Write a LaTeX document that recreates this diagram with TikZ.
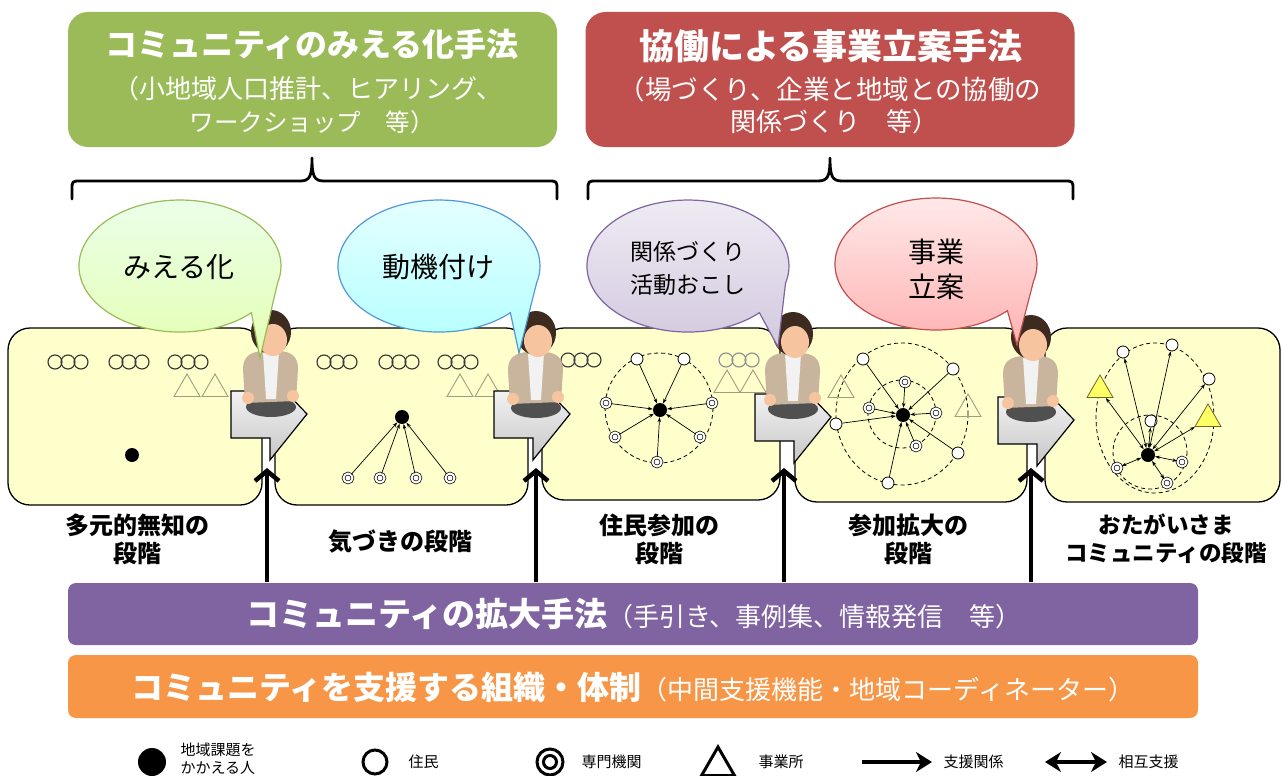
\documentclass[tikz,border=0pt]{standalone}
\usepackage{fontspec}
\setmainfont{Noto Sans CJK JP}
\usetikzlibrary{arrows.meta,shapes.geometric}

\definecolor{hgreen}{HTML}{9BBB59}
\definecolor{hred}{HTML}{C0504D}
\definecolor{hpurple}{HTML}{8064A2}
\definecolor{horange}{HTML}{F79646}
\definecolor{stagefill}{HTML}{FFFFCC}
\definecolor{skin}{HTML}{F7C4A0}
\definecolor{hair}{HTML}{3D2B1F}
\definecolor{jacket}{HTML}{C9B59D}
\definecolor{shirt}{HTML}{F2F2F2}
\definecolor{lapgray}{HTML}{505050}
\definecolor{fadetri}{HTML}{9E9E80}
\definecolor{ytrifill}{HTML}{FFFF66}

% seated figure, head centred at (#1,#2)
\newcommand\personfig[2]{%
  \begin{scope}[shift={(#1,#2)}]
    \fill[lapgray] (0,72) ellipse [x radius=25, y radius=10];
    \fill[jacket] (-26,68) -- (-28,34) .. controls (-28,21) and (-20,17) .. (-9,16)
      -- (9,16) .. controls (20,17) and (27,21) .. (27,34) -- (25,66) -- cycle;
    \fill[shirt] (-8,17) -- (8,17) -- (5,64) -- (-5,64) -- cycle;
    \fill[hair] (0,-3) ellipse [x radius=20, y radius=22];
    \fill[skin] (2,5) ellipse [x radius=14, y radius=16];
    \fill[skin] (-23,63) circle [radius=6];
    \fill[skin] (22,61) circle [radius=6];
  \end{scope}}

% grey step arrow, top-left corner at (#1,#2)
\newcommand\grayarrow[2]{%
  \draw[garrow] (#1,#2) -- ++(54,0) -- ++(22,23) -- ++(-37,46) -- ++(0,-22) -- ++(-39,0) -- cycle;}

% speech bubble: centre (#1,#2), tail tip (#3,#4), style #5
\newcommand\bubble[5]{%
  \draw[bubblebase,#5] ({#1+71.4},{#2+46.7}) arc[start angle=45,end angle=375,x radius=101,y radius=66]
    -- (#3,#4) -- cycle;}

\begin{document}
\begin{tikzpicture}[x=1pt,y=-1pt,
  hbox/.style={rounded corners=20pt, inner sep=0pt, minimum width=489pt, minimum height=135pt},
  htitle/.style={text=white, font=\bfseries\fontsize{32}{32}\selectfont},
  hsub/.style={text=white, font=\fontsize{24}{24}\selectfont},
  brace/.style={line width=2.8pt, line cap=round, line join=round},
  stagebox/.style={draw, line width=1.3pt, fill=stagefill, rounded corners=22pt, inner sep=0pt},
  stagelabel/.style={font=\bfseries\fontsize{24}{28}\selectfont, align=center},
  bubblebase/.style={line width=1.2pt},
  bubtext/.style={font=\fontsize{28}{34}\selectfont, align=center},
  garrow/.style={draw, line width=1.2pt, top color=gray!10, bottom color=gray!45},
  uparrow/.style={line width=4.5pt, -{Straight Barb[length=10pt,width=24pt]}},
  rowc/.style={circle, draw=black!80, line width=1.1pt, minimum size=14pt, inner sep=0pt},
  rowf/.style={rowc, draw=black!45},
  tri/.style={regular polygon, regular polygon sides=3, draw=fadetri, line width=0.9pt, minimum size=30pt, inner sep=0pt},
  ytri/.style={regular polygon, regular polygon sides=3, draw=olive!70!black, fill=ytrifill, line width=0.8pt, minimum size=30pt, inner sep=0pt},
  res/.style={circle, draw, fill=white, line width=0.8pt, minimum size=12pt, inner sep=0pt},
  exp/.style={circle, draw, fill=white, line width=0.7pt, double=white, double distance=2pt, minimum size=9pt, inner sep=0pt},
  hub/.style={circle, fill=black, minimum size=14pt, inner sep=0pt},
  net/.style={line width=0.7pt, -{Stealth[length=5pt,width=3.5pt]}},
  net2/.style={line width=0.7pt, {Stealth[length=5pt,width=3.5pt]}-{Stealth[length=5pt,width=3.5pt]}},
  ring/.style={dashed, line width=0.8pt, dash pattern=on 4pt off 3pt},
  bar/.style={rounded corners=8pt, inner sep=0pt, minimum width=1130pt, minimum height=62pt},
  legtext/.style={anchor=west, font=\fontsize{15}{18}\selectfont, align=left}
]
\useasboundingbox (0,0) rectangle (1283,776);
\fill[white] (0,0) rectangle (1283,776);

% ---------- method headers ----------
\node[hbox, fill=hgreen] (meth1) at (312.5,79.5) {};
\node[htitle] (meth1t) at (312,44) {コミュニティのみえる化手法};
\node[hsub, font=\fontsize{26}{26}\selectfont] (meth1s1) at (308,89) {（小地域人口推計、ヒアリング、};
\node[hsub, font=\fontsize{24.5}{24.5}\selectfont] (meth1s2) at (312,122) {ワークショップ　等）};

\node[hbox, fill=hred] (meth2) at (830,79.5) {};
\node[htitle, font=\bfseries\fontsize{35}{35}\selectfont] (meth2t) at (831,46) {協働による事業立案手法};
\node[hsub, font=\fontsize{26.5}{26.5}\selectfont] (meth2s1) at (830,89) {（場づくり、企業と地域との協働の};
\node[hsub, font=\fontsize{26}{26}\selectfont] (meth2s2) at (834,122) {関係づくり　等）};

% ---------- braces ----------
\draw[brace] (72,199) -- (72,190) .. controls (72,181) .. (81,181) -- (300,181)
  .. controls (310,181) and (312,176) .. (312,158)
  .. controls (312,176) and (314,181) .. (324,181) -- (548,181)
  .. controls (557,181) .. (557,190) -- (557,199);
\draw[brace] (588,199) -- (588,190) .. controls (588,181) .. (597,181) -- (818,181)
  .. controls (828,181) and (830,176) .. (830,158)
  .. controls (830,176) and (832,181) .. (842,181) -- (1064,181)
  .. controls (1073,181) .. (1073,190) -- (1073,199);

% ---------- stage boxes ----------
\node[stagebox, minimum width=232pt, minimum height=174pt] (st4) at (911,415) {};
\node[stagebox, minimum width=235pt, minimum height=174pt] (st5) at (1162.5,415) {};
\node[stagebox, minimum width=238pt, minimum height=172pt] (st3) at (661,414) {};
\node[stagebox, minimum width=253pt, minimum height=177pt] (st2) at (401.5,416.5) {};
\node[stagebox, minimum width=254pt, minimum height=177pt] (st1) at (135,416.5) {};

% stage 1: scattered residents
\foreach \gx in {55,116,175} \foreach \k in {0,1,2}
  \node[rowc] (ra\gx\k) at ({\gx+13*\k},362) {};
\node[tri] (ta1) at (187,389) {};
\node[tri] (ta2) at (215,389) {};
\node[hub] (c1) at (132,455) {};

% stage 2: experts around one person
\foreach \gx in {324,386,445} \foreach \k in {0,1,2}
  \node[rowc] (rb\gx\k) at ({\gx+13*\k},362) {};
\node[tri] (tb1) at (460,389) {};
\node[tri] (tb2) at (488,389) {};
\node[hub] (c2) at (402,417) {};
\foreach \ex [count=\i] in {348,380,416,450} {
  \node[exp] (e2\i) at (\ex,478) {};
  \draw[net] (e2\i) -- (c2);
}

% stage 3: residents join
\foreach \k in {0,1,2} \node[rowc] (rc\k) at ({568+13*\k},360) {};
\foreach \k in {0,1,2} \node[rowf] (rd\k) at ({726+13*\k},360) {};
\node[tri] (tc1) at (727,385) {};
\node[tri] (tc2) at (753,385) {};
\draw[ring] (659,408) ellipse [x radius=54, y radius=55];
\node[hub] (c3) at (660,410) {};
\node[res] (n31) at (637,359) {};
\node[res] (n32) at (684,359) {};
\node[exp] (n33) at (606,403) {};
\node[exp] (n34) at (712,403) {};
\node[exp] (n35) at (615,437) {};
\node[exp] (n36) at (700,437) {};
\node[exp] (n37) at (657,462) {};
\foreach \n in {n31,n32,n33,n34,n35,n36,n37} \draw[net] (\n) -- (c3);

% stage 4: participation widens
\draw[ring] (902,414) ellipse [x radius=66, y radius=71];
\draw[ring] (902,414) circle [radius=34];
\node[hub] (c4) at (903,415) {};
\node[exp] (n41) at (905,382) {};
\node[exp] (n42) at (869,408) {};
\node[exp] (n43) at (936,413) {};
\node[exp] (n44) at (916,446) {};
\node[res] (n45) at (863,359) {};
\node[res] (n46) at (953,369) {};
\node[res] (n47) at (836,424) {};
\node[res] (n48) at (958,453) {};
\node[res] (n49) at (888,483) {};
\node[tri] (td1) at (841,390) {};
\node[tri] (td2) at (968,409) {};
\foreach \n in {n41,n42,n43,n44,n45,n46,n47,n48,n49} \draw[net] (\n) -- (c4);

% stage 5: mutual support
\draw[ring] (1155,418) ellipse [x radius=59, y radius=75];
\draw[ring] (1150,452) circle [radius=37];
\node[hub] (c5) at (1148,455) {};
\node[res] (n51) at (1123,352) {};
\node[res] (n52) at (1172,345) {};
\node[res] (n53) at (1209,379) {};
\node[res] (n54) at (1151,421) {};
\node[exp] (n55) at (1117,468) {};
\node[exp] (n56) at (1182,462) {};
\node[exp] (n57) at (1167,483) {};
\node[ytri] (te1) at (1100,390) {};
\node[ytri] (te2) at (1208,419) {};
\foreach \n in {n51,n52,n53,n54,n55,n56,n57,te1,te2} \draw[net2] (c5) -- (\n);

% ---------- step arrows and figures ----------
\grayarrow{231}{391}
\grayarrow{494}{391}
\grayarrow{755}{394}
\grayarrow{998}{397}
\personfig{271}{335}
\personfig{536}{336}
\personfig{793}{337}
\personfig{1031}{340}

% ---------- speech bubbles ----------
\bubble{180}{266}{260}{358}{draw=hgreen, top color=green!8!white, bottom color=green!35!yellow!30!white}
\node[bubtext] (bub1) at (179,267) {みえる化};
\bubble{439}{266}{519}{353}{draw=cyan!60!blue!70!white, top color=cyan!10!white, bottom color=cyan!30!white}
\node[bubtext] (bub2) at (438,267) {動機付け};
\bubble{688}{266}{778}{347}{draw=hpurple, top color=hpurple!12!white, bottom color=hpurple!35!white}
\node[bubtext, font=\fontsize{23}{33}\selectfont] (bub3) at (688,268) {関係づくり\\活動おこし};
\bubble{936}{264}{1017}{345}{draw=hred, top color=red!8!white, bottom color=red!30!white}
\node[bubtext, font=\fontsize{28}{35}\selectfont] (bub4) at (936,269) {事業\\立案};

% ---------- stage labels ----------
\node[stagelabel] (lab1) at (137,539) {多元的無知の\\段階};
\node[stagelabel] (lab2) at (400,542) {気づきの段階};
\node[stagelabel] (lab3) at (659,539) {住民参加の\\段階};
\node[stagelabel] (lab4) at (908,539) {参加拡大の\\段階};
\node[stagelabel, font=\bfseries\fontsize{22.5}{28}\selectfont] (lab5) at (1166,539) {おたがいさま\\コミュニティの段階};

% ---------- support bars ----------
\node[bar, fill=hpurple] (bar1) at (633,614) {};
\node[text=white] (bar1t) at (634,614)
  {{\bfseries\fontsize{33}{33}\selectfont コミュニティの拡大手法}{\fontsize{26}{26}\selectfont （手引き、事例集、情報発信　等）}};
\node[bar, fill=horange, minimum height=63pt] (bar2) at (633,686.5) {};
\node[text=white] (bar2t) at (633,687)
  {{\bfseries\fontsize{32}{32}\selectfont コミュニティを支援する組織・体制}{\fontsize{26}{26}\selectfont （中間支援機能・地域コーディネーター）}};

% upward support arrows from the bar
\foreach \ax [count=\i] in {267,536,784,1031} {
  \coordinate (vs\i) at (\ax,582);
  \coordinate (ve\i) at (\ax,468);
  \draw[uparrow] (vs\i) -- (ve\i);
}

% ---------- legend ----------
\node[circle, fill=black, minimum size=28pt, inner sep=0pt] (lg1) at (152,762) {};
\node[legtext] (lg1t) at (177,759) {地域課題を\\かかえる人};
\node[circle, draw, line width=3pt, minimum size=24pt, inner sep=0pt] (lg2) at (375,762) {};
\node[legtext] (lg2t) at (405,762) {住民};
\node[circle, draw, line width=3pt, minimum size=26pt, inner sep=0pt] (lg3) at (550,762) {};
\draw[line width=3pt] (lg3.center) circle [radius=6.5];
\node[legtext] (lg3t) at (578,762) {専門機関};
\node[regular polygon, regular polygon sides=3, draw, line width=3pt, minimum size=38pt, inner sep=0pt] (lg4) at (718,766) {};
\node[legtext] (lg4t) at (755,762) {事業所};
\coordinate (lg5a) at (862,762);
\coordinate (lg5b) at (932,762);
\draw[line width=4pt, -{Stealth[length=16pt,width=20pt,inset=5pt]}] (lg5a) -- (lg5b);
\node[legtext] (lg5t) at (940,762) {支援関係};
\coordinate (lg6a) at (1045,762);
\coordinate (lg6b) at (1107,762);
\draw[line width=4pt, {Stealth[length=16pt,width=20pt,inset=5pt]}-{Stealth[length=16pt,width=20pt,inset=5pt]}] (lg6a) -- (lg6b);
\node[legtext] (lg6t) at (1115,762) {相互支援};
\end{tikzpicture}
\end{document}
